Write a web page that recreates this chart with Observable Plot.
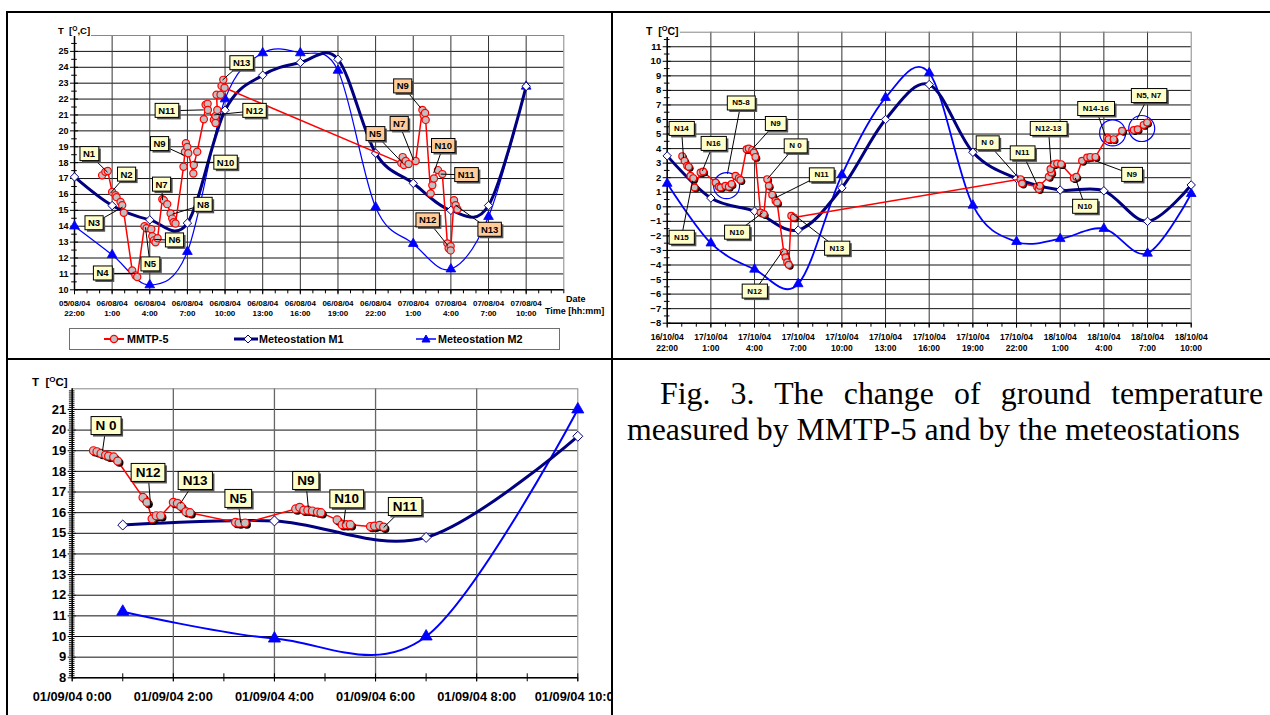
<!DOCTYPE html>
<html>
<head>
<meta charset="utf-8">
<script src="https://cdn.jsdelivr.net/npm/d3@7"></script>
<script src="https://cdn.jsdelivr.net/npm/@observablehq/plot@0.6"></script>
<style>
  html,body{margin:0;padding:0;background:#fff;}
  #root{position:relative;width:1270px;height:715px;overflow:hidden;background:#fff;font-family:"Liberation Sans",Arial,sans-serif;}
  .panel{position:absolute;}
  .panel svg{display:block;max-width:none;}
  .bline{position:absolute;background:#000;}
  .lab{position:absolute;font-weight:bold;white-space:nowrap;line-height:1;}
  .lab sup{font-size:70%;vertical-align:0.5em;line-height:0;}
  .wbg{background:#fff;padding-right:1px;}
  #legA{position:absolute;left:69px;top:328px;width:489px;height:20px;border:1px solid #707070;background:#fff;font-weight:bold;font-size:10.8px;}
  #legA span{position:absolute;top:4px;white-space:nowrap;}
  #legA svg{position:absolute;top:3px;}
  #caption{position:absolute;left:627px;top:376px;width:636px;font-family:"Liberation Serif","Times New Roman",serif;font-size:31.8px;line-height:36px;text-align:justify;text-indent:33px;color:#000;}
</style>
</head>
<body>
<div id="root">
  <div class="panel" id="pA" style="left:0;top:0"></div>
  <div class="panel" id="pB" style="left:612px;top:0"></div>
  <div class="panel" id="pC" style="left:0;top:359px"></div>

  <div class="lab wbg" style="left:58px;top:26px;font-size:9.5px;">T&nbsp;&nbsp;[<sup>O</sup>,C]</div>
  <div class="lab wbg" style="left:646px;top:26px;font-size:10.5px;">T&nbsp;&nbsp;[<sup>O</sup>C]</div>
  <div class="lab wbg" style="left:32px;top:377px;font-size:11.5px;">T&nbsp;&nbsp;[<sup>O</sup>C]</div>
  <div class="lab" style="left:566px;top:295px;font-size:9px;">Date</div>
  <div class="lab" style="left:545px;top:307px;font-size:9px;">Time [hh:mm]</div>

  <div id="legA">
    <svg style="left:33px" width="22" height="14"><line x1="1" y1="7" x2="21" y2="7" stroke="#ff0000" stroke-width="2"/><circle cx="11" cy="7" r="3.6" fill="#c0c0c0" stroke="#ff0000" stroke-width="1.3"/></svg>
    <span style="left:57px">MMTP-5</span>
    <svg style="left:163px" width="26" height="14"><line x1="1" y1="7" x2="25" y2="7" stroke="#000080" stroke-width="3"/><path d="M15,3 L19,7 L15,11 L11,7 Z" fill="#fff" stroke="#000080" stroke-width="1"/></svg>
    <span style="left:189px">Meteostation M1</span>
    <svg style="left:345px" width="22" height="14"><line x1="1" y1="7" x2="21" y2="7" stroke="#0000ff" stroke-width="1.5"/><path d="M11,3 L15,10 L7,10 Z" fill="#0000ff" stroke="#0000ff"/></svg>
    <span style="left:368px">Meteostation M2</span>
  </div>

  <div id="caption">Fig. 3. The change of ground temperature measured by MMTP-5 and by the meteostations</div>

  <div class="bline" style="left:6px;top:11px;width:1264px;height:2px"></div>
  <div class="bline" style="left:6px;top:11px;width:2px;height:704px"></div>
  <div class="bline" style="left:611px;top:11px;width:2px;height:704px"></div>
  <div class="bline" style="left:6px;top:358px;width:1264px;height:2px"></div>
</div>
<script>
// ================= DATA =================
// Panel A: 05/08/04 22:00 – 07/08/04 13:00 (hours since 05/08/04 22:00)
const A_tickHours = [0,3,6,9,12,15,18,21,24,27,30,33,36];
const A_tickLabels = ["05/08/04\n22:00","06/08/04\n1:00","06/08/04\n4:00","06/08/04\n7:00","06/08/04\n10:00","06/08/04\n13:00","06/08/04\n16:00","06/08/04\n19:00","06/08/04\n22:00","07/08/04\n1:00","07/08/04\n4:00","07/08/04\n7:00","07/08/04\n10:00"];
const A_metHours = [0,3,6,9,12,15,18,21,24,27,30,33,36];
const A_m1 = [17.1,15.3,14.4,14.2,21.3,23.5,24.3,24.5,18.6,16.7,15.0,15.3,22.8];
const A_m2 = [14.0,12.2,10.3,12.4,22.0,24.9,24.9,23.8,15.2,12.9,11.3,14.6,22.8];
const A_mmtpHours = [2.2,2.46,2.65,3.0,3.27,3.35,3.67,3.8,3.93,4.6,4.86,5.0,5.58,5.74,6.12,6.2,6.33,6.46,6.62,7.0,7.12,7.39,7.66,7.79,7.9,8.05,8.69,8.8,8.88,8.99,9.07,9.47,9.51,9.78,10.31,10.45,10.61,10.63,11.11,11.24,11.24,11.38,11.32,11.64,11.72,11.86,11.96,
  26.05,26.16,26.26,26.4,26.63,27.19,27.73,27.83,27.94,27.99,28.39,28.52,28.65,28.97,29.32,29.72,29.82,29.98,29.98,30.25,30.38,30.52];
const A_mmtpT = [17.2,17.42,17.47,16.16,15.95,15.83,15.53,15.32,14.84,11.22,10.9,10.8,14.0,13.87,13.81,13.37,13.11,12.99,13.24,15.7,15.64,15.39,14.8,14.48,14.25,14.17,17.74,18.67,19.22,18.98,18.59,17.32,17.85,18.69,20.73,21.64,21.7,21.32,20.69,20.5,20.94,21.32,22.27,22.27,22.83,23.21,22.71,
  17.97,18.35,17.85,18.1,17.91,18.1,21.32,21.0,21.13,20.69,16.06,16.58,17.0,17.53,17.28,12.92,12.61,12.74,12.48,15.64,15.32,15.07];
const A_calloutsDay1 = [
  {text:"N1", x:1.16, y:18.54, tx:2.63, ty:17.4},
  {text:"N2", x:4.15, y:17.25, tx:2.87, ty:16.08},
  {text:"N3", x:1.56, y:14.19, tx:3.83, ty:15.2},
  {text:"N4", x:2.23, y:11.03, tx:4.86, ty:11.03},
  {text:"N5", x:6.02, y:11.6, tx:5.66, ty:13.93},
  {text:"N6", x:7.97, y:13.11, tx:6.38, ty:13.17},
  {text:"N7", x:6.94, y:16.62, tx:7.02, ty:15.64},
  {text:"N8", x:10.25, y:15.35, tx:7.81, ty:14.76},
  {text:"N9", x:6.78, y:19.17, tx:8.69, ty:18.48},
  {text:"N10", x:12.04, y:18.0, tx:9.49, ty:18.04},
  {text:"N11", x:7.34, y:21.26, tx:10.29, ty:21.32},
  {text:"N12", x:14.35, y:21.26, tx:11.08, ty:21.0},
  {text:"N13", x:13.32, y:24.26, tx:11.8, ty:23.2}
];
const A_calloutsDay2 = [
  {text:"N5", x:23.96, y:19.8, tx:26.16, ty:17.97},
  {text:"N7", x:25.88, y:20.44, tx:27.03, ty:18.16},
  {text:"N9", x:26.16, y:22.8, tx:27.59, ty:21.45},
  {text:"N10", x:29.39, y:19.05, tx:28.63, ty:17.34},
  {text:"N11", x:31.22, y:17.22, tx:29.19, ty:17.28},
  {text:"N12", x:28.15, y:14.37, tx:29.74, ty:12.8},
  {text:"N13", x:33.09, y:13.78, tx:30.38, ty:15.32}
];

// Panel B: 16/10/04 22:00 – 18/10/04 10:00
const B_tickHours = [0,3,6,9,12,15,18,21,24,27,30,33,36];
const B_tickLabels = ["16/10/04\n22:00","17/10/04\n1:00","17/10/04\n4:00","17/10/04\n7:00","17/10/04\n10:00","17/10/04\n13:00","17/10/04\n16:00","17/10/04\n19:00","17/10/04\n22:00","18/10/04\n1:00","18/10/04\n4:00","18/10/04\n7:00","18/10/04\n10:00"];
const B_metHours = [0,3,6,9,12,15,18,21,24,27,30,33,36];
const B_m1 = [3.5,0.6,-0.3,-1.6,1.3,6.0,8.4,3.75,1.95,1.15,1.1,-1.0,1.5];
const B_m2 = [1.6,-2.5,-4.3,-5.3,2.2,7.5,9.2,0.1,-2.4,-2.2,-1.5,-3.2,0.9];
const B_mmtpHours = [1.03,1.19,1.37,1.48,1.6,1.79,1.88,2.29,2.47,3.32,3.54,3.66,4.0,4.23,4.42,4.69,4.92,5.03,5.45,5.6,5.84,5.95,6.06,6.41,6.64,6.87,6.98,7.21,7.44,7.55,8.01,8.13,8.24,8.35,8.52,8.7,
  24.27,24.38,25.41,25.52,25.59,26.21,26.39,26.33,26.55,26.79,27.06,27.93,28.11,28.5,28.85,29.07,29.42,30.22,30.33,30.67,31.25,32.05,32.32,32.73,32.97];
const B_mmtpT = [3.48,3.16,2.82,2.75,2.13,1.97,1.33,2.36,2.43,1.67,1.38,1.33,1.45,1.38,1.56,2.13,1.97,1.84,3.96,4.0,3.91,3.73,3.43,-0.39,-0.5,1.9,1.45,0.83,0.42,0.3,-3.13,-3.47,-3.81,-3.99,-0.61,-0.73,
  1.9,1.6,1.38,1.22,1.45,2.06,2.36,2.59,2.93,2.98,2.93,1.97,2.06,3.16,3.39,3.43,3.43,4.76,4.65,4.65,5.22,5.27,5.33,5.63,5.79];
const B_circles = [{x:4.08, y:1.45}, {x:30.6, y:5.08}, {x:32.6, y:5.38}];
const B_callouts = [
  {text:"N14", x:0.98, y:5.39, tx:1.12, ty:3.37},
  {text:"N16", x:3.18, y:4.36, tx:2.42, ty:2.47},
  {text:"N5-8", x:5.07, y:7.14, tx:4.14, ty:2.27},
  {text:"N9", x:7.44, y:5.73, tx:5.86, ty:3.98},
  {text:"N 0", x:8.81, y:4.19, tx:6.9, ty:1.93},
  {text:"N11", x:10.6, y:2.2, tx:7.44, ty:0.62},
  {text:"N15", x:0.98, y:-2.09, tx:1.74, ty:1.79},
  {text:"N10", x:4.79, y:-1.74, tx:6.55, ty:-0.41},
  {text:"N12", x:6.0, y:-5.79, tx:7.95, ty:-3.01},
  {text:"N13", x:11.66, y:-2.84, tx:8.61, ty:-0.47},
  {text:"N 0", x:22.0, y:4.4, tx:24.13, ty:1.99},
  {text:"N11", x:24.4, y:3.71, tx:25.45, ty:1.45},
  {text:"N12-13", x:26.19, y:5.39, tx:26.37, ty:2.95},
  {text:"N14-16", x:29.45, y:6.76, tx:30.1, ty:4.87},
  {text:"N5, N7", x:33.09, y:7.65, tx:32.28, ty:6.04},
  {text:"N9", x:31.92, y:2.23, tx:29.42, ty:3.16},
  {text:"N10", x:28.7, y:0.04, tx:28.04, ty:1.99}
];

// Panel C: 01/09/04 0:00 – 10:00
const C_tickHours = [0,2,4,6,8,10];
const C_tickLabels = ["01/09/04 0:00","01/09/04 2:00","01/09/04 4:00","01/09/04 6:00","01/09/04 8:00","01/09/04 10:00"];
const C_metHours = [1,4,7,10];
const C_m1 = [15.4,15.6,14.8,19.7];
const C_m2 = [11.2,9.9,10.0,21.0];
const C_mmtpHours = [0.42,0.49,0.57,0.66,0.72,0.82,0.9,1.4,1.48,1.58,1.66,1.75,2.0,2.08,2.15,2.25,2.33,3.23,3.3,3.42,4.42,4.5,4.58,4.66,4.75,4.85,4.92,5.24,5.34,5.42,5.5,5.9,5.98,6.08,6.16];
const C_mmtpT = [19.0,18.95,18.87,18.79,18.74,18.7,18.5,16.74,16.5,15.7,15.85,15.85,16.5,16.45,16.3,16.05,16.0,15.53,15.5,15.5,16.18,16.26,16.12,16.12,16.08,16.03,16.0,15.65,15.42,15.42,15.42,15.33,15.35,15.38,15.3];
const C_callouts = [
  {text:"N 0", x:0.67, y:20.21, tx:0.6, ty:18.99},
  {text:"N12", x:1.5, y:17.94, tx:1.55, ty:16.34},
  {text:"N13", x:2.43, y:17.55, tx:2.14, ty:16.44},
  {text:"N5", x:3.28, y:16.68, tx:3.33, ty:15.52},
  {text:"N9", x:4.62, y:17.55, tx:4.67, ty:16.24},
  {text:"N10", x:5.43, y:16.66, tx:5.37, ty:15.47},
  {text:"N11", x:6.58, y:16.29, tx:6.16, ty:15.28}
];

// ================= HELPERS =================
const FONT = "'Liberation Sans', Arial, sans-serif";
const SMOOTH = "cardinal"; // tension 0 = uniform Catmull-Rom, like a spreadsheet smoothed line
const zip = (xs, a, b) => xs.map((t, i) => ({t, a: a[i], b: b ? b[i] : undefined}));
const labeler = (ticks, labels) => { const m = new Map(ticks.map((t, i) => [t, labels[i]])); return d => m.has(d) ? m.get(d) : ""; };
const blank = () => "";
const NAVY = "#000080", BLUE = "#0000ff", RED = "#ff0000";

function calloutMarks(list, fontSize, tag) {
  return [
    Plot.link(list, {x1: "x", y1: "y", x2: "tx", y2: "ty", stroke: "#000", strokeWidth: 1}),
    Plot.text(list, {x: "x", y: "y", text: "text", fontSize, fontWeight: "bold", fill: "#000", ariaLabel: tag, className: tag})
  ];
}
function boxify(svg, tag, fill, padX, padY) {
  const groups = svg.querySelectorAll(`g[aria-label="${tag}"], g.${tag}`);
  const seen = new Set();
  groups.forEach(g => g.querySelectorAll("text").forEach(t => {
    if (seen.has(t)) return; seen.add(t);
    const b = t.getBBox();
    const tr = t.getAttribute("transform");
    const mk = (d, f, s) => {
      const r = document.createElementNS("http://www.w3.org/2000/svg", "rect");
      r.setAttribute("x", b.x - padX + d); r.setAttribute("y", b.y - padY + d);
      r.setAttribute("width", b.width + 2 * padX); r.setAttribute("height", b.height + 2 * padY);
      r.setAttribute("fill", f);
      if (s) { r.setAttribute("stroke", s); r.setAttribute("stroke-width", 1); }
      if (tr) r.setAttribute("transform", tr);
      t.parentNode.insertBefore(r, t);
    };
    mk(2, "#555", null);
    mk(0, fill, "#000");
  }));
}
function yAxes(major, minor, size, fontSize) {
  return [
    Plot.axisY(major, {tickSize: size, tickPadding: 2, fontSize, label: null, stroke: "#000"}),
    Plot.axisY(major, {tickSize: size, dx: size, tickFormat: blank, label: null}),
    Plot.axisY(minor, {tickSize: size * 0.7, tickFormat: blank, label: null}),
    Plot.axisY(minor, {tickSize: size * 0.7, dx: size * 0.7, tickFormat: blank, label: null})
  ];
}

// ================= PANEL A =================
const A_met = zip(A_metHours, A_m1, A_m2);
const A_red = zip(A_mmtpHours, A_mmtpT);
const plotA = Plot.plot({
  width: 612, height: 359,
  marginLeft: 74, marginRight: 48.7, marginTop: 35, marginBottom: 69.7,
  style: {background: "transparent", fontFamily: FONT, fontWeight: "bold", fontSize: "9px", overflow: "hidden"},
  x: {domain: [0, 39], label: null},
  y: {domain: [10, 26], label: null},
  marks: [
    Plot.gridY(d3.range(11, 26), {stroke: "#111", strokeOpacity: 1}),
    Plot.gridX(d3.range(3, 39, 3), {stroke: "#333", strokeOpacity: 1}),
    Plot.frame({stroke: "#888"}),
    ...yAxes(d3.range(10, 26), d3.range(10.5, 26, 1), 4, 9),
    Plot.axisX(A_tickHours, {tickSize: 5, tickPadding: 3.5, fontSize: 8, lineHeight: 1.3, tickFormat: labeler(A_tickHours, A_tickLabels), label: null}),
    Plot.axisX(d3.range(0, 40), {tickSize: 4, tickFormat: blank, label: null}),
    Plot.ruleX([0], {stroke: "#000", strokeWidth: 1.5}),
    Plot.ruleY([10], {stroke: "#000", strokeWidth: 1.5}),
    Plot.line(A_met, {x: "t", y: "b", stroke: BLUE, strokeWidth: 1.2, curve: SMOOTH}),
    Plot.line(A_met, {x: "t", y: "a", stroke: NAVY, strokeWidth: 3, curve: SMOOTH}),
    Plot.dot(A_met, {x: "t", y: "b", symbol: "triangle", r: 3.6, fill: BLUE, stroke: BLUE, strokeWidth: 0.8}),
    Plot.dot(A_met, {x: "t", y: "a", symbol: "diamond2", r: 3.8, fill: "#fff", stroke: NAVY, strokeWidth: 1}),
    Plot.line(A_red, {x: "t", y: "a", stroke: RED, strokeWidth: 1.5}),
    Plot.dot(A_red, {x: "t", y: "a", r: 3.6, fill: "#c0c0c0", stroke: RED, strokeWidth: 1.2}),
    ...calloutMarks(A_calloutsDay1, 9.5, "coA1"),
    ...calloutMarks(A_calloutsDay2, 9.5, "coA2")
  ]
});
document.getElementById("pA").appendChild(plotA);
boxify(plotA, "coA1", "#ffffcc", 3, 1.5);
boxify(plotA, "coA2", "#ffcc99", 3, 1.5);

// ================= PANEL B =================
const B_met = zip(B_metHours, B_m1, B_m2);
const B_red = zip(B_mmtpHours, B_mmtpT);
const plotB = Plot.plot({
  width: 658, height: 359,
  marginLeft: 54.7, marginRight: 79.3, marginTop: 31.7, marginBottom: 36.3,
  style: {background: "transparent", fontFamily: FONT, fontWeight: "bold", fontSize: "9px", overflow: "hidden"},
  x: {domain: [0, 36], label: null},
  y: {domain: [-8, 12], label: null},
  marks: [
    Plot.gridY(d3.range(-7, 12), {stroke: "#111", strokeOpacity: 1}),
    Plot.gridX(d3.range(3, 36, 3), {stroke: "#333", strokeOpacity: 1}),
    Plot.frame({stroke: "#888"}),
    ...yAxes(d3.range(-8, 12), d3.range(-7.5, 12, 1), 4, 9.5),
    Plot.axisX(B_tickHours, {tickSize: 5, tickPadding: 3.8, fontSize: 8.5, lineHeight: 1.3, tickFormat: labeler(B_tickHours, B_tickLabels), label: null}),
    Plot.axisX(d3.range(0, 37), {tickSize: 4, tickFormat: blank, label: null}),
    Plot.ruleX([0], {stroke: "#000", strokeWidth: 1.5}),
    Plot.ruleY([-8], {stroke: "#000", strokeWidth: 1.5}),
    Plot.line(B_met, {x: "t", y: "b", stroke: BLUE, strokeWidth: 1.8, curve: SMOOTH}),
    Plot.line(B_met, {x: "t", y: "a", stroke: NAVY, strokeWidth: 3, curve: SMOOTH}),
    Plot.dot(B_met, {x: "t", y: "b", symbol: "triangle", r: 3.6, fill: BLUE, stroke: BLUE, strokeWidth: 0.8}),
    Plot.dot(B_met, {x: "t", y: "a", symbol: "diamond2", r: 3.8, fill: "#fff", stroke: NAVY, strokeWidth: 1}),
    Plot.dot(B_circles, {x: "x", y: "y", r: 13, fill: "none", stroke: BLUE, strokeWidth: 1.2}),
    Plot.line(B_red, {x: "t", y: "a", stroke: RED, strokeWidth: 1.5}),
    Plot.dot(B_red, {x: "t", y: "a", r: 3.4, fill: "#000", dx: 1.5, dy: 1.5}),
    Plot.dot(B_red, {x: "t", y: "a", r: 3.4, fill: "#c0c0c0", stroke: RED, strokeWidth: 1.2}),
    ...calloutMarks(B_callouts, 8, "coB")
  ]
});
document.getElementById("pB").appendChild(plotB);
boxify(plotB, "coB", "#ffffcc", 5, 2.5);

// ================= PANEL C =================
const C_met = zip(C_metHours, C_m1, C_m2);
const C_red = zip(C_mmtpHours, C_mmtpT);
const plotC = Plot.plot({
  width: 612, height: 356,
  marginLeft: 71.7, marginRight: 34.7, marginTop: 29.3, marginBottom: 37.7,
  style: {background: "transparent", fontFamily: FONT, fontWeight: "bold", fontSize: "12px", overflow: "hidden"},
  x: {domain: [0, 10], label: null},
  y: {domain: [8, 22], label: null},
  marks: [
    Plot.gridY(d3.range(9, 22), {stroke: "#111", strokeOpacity: 1}),
    Plot.gridX(d3.range(2, 10, 2), {stroke: "#666", strokeOpacity: 1, strokeWidth: 1.3}),
    Plot.frame({stroke: "#888"}),
    ...yAxes(d3.range(8, 22), d3.range(8, 22.001, 0.1).filter(v => Math.abs(v - Math.round(v)) > 0.01), 4, 13),
    Plot.axisX(C_tickHours, {tickSize: 4, tickPadding: 10, fontSize: 12.8, tickFormat: labeler(C_tickHours, C_tickLabels), label: null}),
    Plot.axisX(d3.range(0, 11), {tickSize: 4, tickFormat: blank, label: null}),
    Plot.axisX(d3.range(0, 11), {tickSize: 4, dy: -4, tickFormat: blank, label: null}),
    Plot.ruleX([0], {stroke: "#000", strokeWidth: 1.5}),
    Plot.ruleY([8], {stroke: "#000", strokeWidth: 1.5}),
    Plot.line(C_met, {x: "t", y: "b", stroke: BLUE, strokeWidth: 2, curve: SMOOTH}),
    Plot.line(C_met, {x: "t", y: "a", stroke: NAVY, strokeWidth: 3, curve: SMOOTH}),
    Plot.dot(C_met, {x: "t", y: "b", symbol: "triangle", r: 4.5, fill: BLUE, stroke: BLUE, strokeWidth: 0.8}),
    Plot.dot(C_met, {x: "t", y: "a", symbol: "diamond2", r: 4.5, fill: "#fff", stroke: NAVY, strokeWidth: 1}),
    Plot.line(C_red, {x: "t", y: "a", stroke: RED, strokeWidth: 1.5}),
    Plot.dot(C_red, {x: "t", y: "a", r: 4, fill: "#000", dx: 1.8, dy: 1.8}),
    Plot.dot(C_red, {x: "t", y: "a", r: 4, fill: "#c0c0c0", stroke: RED, strokeWidth: 1.2}),
    ...calloutMarks(C_callouts, 13.5, "coC")
  ]
});
document.getElementById("pC").appendChild(plotC);
boxify(plotC, "coC", "#ffffcc", 4.5, 1.5);
</script>
</body>
</html>
